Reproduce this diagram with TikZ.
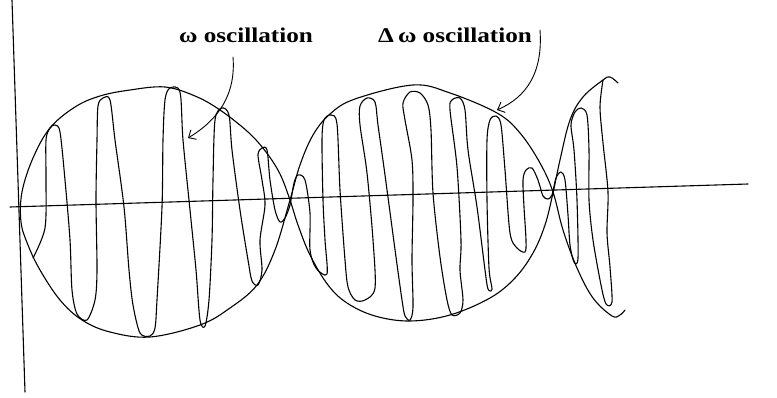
\documentclass[tikz,border=0pt]{standalone}
\usepackage{fontspec}
\setmainfont{Liberation Serif}
\usetikzlibrary{arrows.meta}
\begin{document}
\begin{tikzpicture}[x=1pt,y=-1pt,
  ink/.style={line width=1.1pt,line join=round,line cap=round},
  lab/.style={font=\fontsize{21}{21}\selectfont\bfseries,anchor=base,xscale=1.2,transform shape,inner sep=0pt},
  pointer/.style={ink,line width=0.9pt,-{Straight Barb[length=6pt,width=11pt]}}]
\useasboundingbox (0,0) rectangle (777,398);
% axes
\coordinate (vt) at (12,0);
\coordinate (vb) at (25,392);
\coordinate (hl) at (10,207);
\coordinate (hr) at (748,184);
\draw[ink] (vt) -- (vb);
\draw[ink] (hl) -- (hr);
% envelopes
\draw[ink] plot[smooth,tension=0.6] coordinates {
 (618,83) (610,77) (603,80) (583,97) (570,120) (560,160) (553,193) (545,225) (533,253) (515,278) (490,298) (450,315) (410,321) (375,316) (347,303) (328,285) (310,255) (298,225) (290,200) (280,174) (266,152) (248,132) (220,110) (195,96) (165,87) (130,90) (100,96) (75,107) (50,128) (33,158) (22,192) (21,222) (28,245) (40,270) (60,300) (82,320) (110,332) (150,337) (200,325) (230,308) (257,285) (275,250) (290,200) (300,165) (313,135) (330,114) (355,99) (413,85) (450,93) (497,113) (520,133) (540,163) (553,192) (563,230) (577,268) (593,298) (612,316) (620,315) (625,310)};
% oscillation
\draw[ink] plot[smooth,tension=0.5] coordinates {
 (33,258) (45,228) (46,180) (46,140) (50,128) (55,125) (60,132) (65,180) (70,240) (72,290) (77,314) (87,320) (95,300) (97,270) (96,200) (97,140) (98,106) (103,98) (110,100) (115,140) (124,207) (129,270) (133,305) (140,333) (150,336) (155,328) (157,300) (162,207) (163,140) (165,100) (170,88) (180,92) (183,140) (190,210) (196,270) (200,320) (205,326) (209,300) (212,240) (213,180) (215,120) (222,108) (229,115) (232,150) (240,210) (248,260) (252,281) (258,285) (262,270) (260,240) (265,205) (262,180) (258,155) (262,148) (267,150) (270,180) (275,210) (280,222) (285,218) (290,205) (294,183) (298,175) (305,180) (310,213) (310,250) (316,268) (327,274) (325,240) (323,200) (322,140) (324,120) (331,115) (337,124) (340,190) (345,260) (348,287) (355,300) (365,300) (375,288) (373,240) (367,173) (360,125) (360,106) (367,98) (375,102) (378,125) (385,175) (396,257) (402,300) (405,316) (410,320) (413,307) (412,260) (413,200) (412,160) (405,120) (403,103) (410,92) (420,93) (428,105) (431,130) (433,193) (440,257) (447,300) (452,315) (460,313) (463,300) (460,270) (461,240) (457,167) (450,110) (452,100) (460,98) (465,110) (468,150) (477,207) (485,270) (488,289) (492,289) (489,268) (487,200) (487,140) (490,120) (496,116) (501,125) (505,170) (510,233) (517,248) (525,252) (526,240) (524,207) (523,180) (526,170) (532,168) (538,180) (543,196) (548,199) (552,195) (556,178) (561,172) (565,180) (568,215) (570,245) (574,262) (578,258) (577,200) (574,150) (571,125) (575,112) (581,108) (587,115) (589,150) (589,200) (593,240) (601,285) (606,304) (612,302) (610,267) (607,233) (608,192) (603,143) (600,107) (603,80)};
% labels
\node[lab] (w) at (246,43) {ω oscillation};
\node[lab] (dw) at (455,43) {Δ\,ω oscillation};
\coordinate (a1s) at (233,57);
\coordinate (a1e) at (188,138);
\coordinate (a2s) at (540,30);
\coordinate (a2e) at (497,110);
\draw[pointer] (a1s) .. controls (236,95) and (218,120) .. (a1e);
\draw[pointer] (a2s) .. controls (543,72) and (527,97) .. (a2e);
\end{tikzpicture}
\end{document}
